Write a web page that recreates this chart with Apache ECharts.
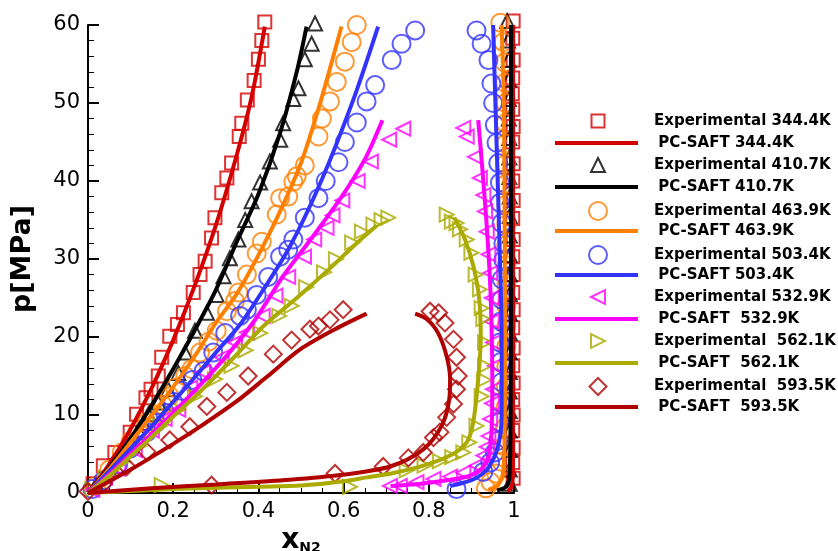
<!DOCTYPE html>
<html>
<head>
<meta charset="utf-8">
<script src="https://cdn.jsdelivr.net/npm/echarts@6/dist/echarts.min.js"></script>
<style>
  html, body { margin: 0; padding: 0; background: #fff; }
  #chart { width: 838px; height: 551px; }
</style>
</head>
<body>
<div id="chart"></div>
<script>
// legend labels (order as in the reference legend)
const expNames = ['Experimental 344.4K', 'Experimental 410.7K', 'Experimental 463.9K', 'Experimental 503.4K',
  'Experimental 532.9K', 'Experimental  562.1K', 'Experimental  593.5K']
const saftNames = [' PC-SAFT 344.4K', ' PC-SAFT 410.7K', ' PC-SAFT 463.9K', ' PC-SAFT 503.4K',
  ' PC-SAFT  532.9K', ' PC-SAFT  562.1K', ' PC-SAFT  593.5K']

// experimental points [x_N2, p/MPa]
const exp344 = [[0.012,1.2],[0.036,3.5],[0.063,5.2],[0.099,7.8],[0.114,10.1],[0.136,12.2],[0.148,13.3],[0.165,15.0],[0.173,17.4],[0.192,20.1],[0.21,21.6],[0.224,23.1],[0.247,25.7],[0.263,28.0],[0.275,29.7],[0.29,32.7],[0.298,35.3],[0.314,38.5],[0.326,40.4],[0.337,42.3],[0.355,45.7],[0.361,47.4],[0.374,50.4],[0.39,52.9],[0.4,55.6],[0.408,58.0],[0.415,60.4],
  [0.998,1.9],[0.997,3.9],[0.998,5.8],[0.997,8.0],[0.998,10.0],[0.997,12.0],[0.998,14.1],[0.997,16.3],[0.998,18.6],[0.997,21.2],[0.998,23.5],[0.997,25.7],[0.998,28.0],[0.997,30.3],[0.998,32.5],[0.997,35.2],[0.998,37.5],[0.997,40.0],[0.998,42.2],[0.997,45.0],[0.998,47.0],[0.997,49.2],[0.996,51.2],[0.997,53.2],[0.998,55.5],[0.997,58.3],[0.998,60.5]]
const exp410 = [[0.02,1.2],[0.05,3.0],[0.08,5.0],[0.1,6.5],[0.118,8.0],[0.13,9.0],[0.142,10.1],[0.165,11.6],[0.188,13.3],[0.212,15.4],[0.228,18.0],[0.251,20.8],[0.279,23.1],[0.302,25.4],[0.318,27.8],[0.333,30.1],[0.353,32.5],[0.369,35.0],[0.384,37.4],[0.404,39.8],[0.427,42.5],[0.451,45.3],[0.458,47.4],[0.482,50.5],[0.494,51.9],[0.509,55.6],[0.525,57.6],[0.533,60.2],
  [0.99,1.2],[0.99,3.0],[0.99,5.5],[0.99,8.0],[0.99,10.5],[0.99,13.0],[0.99,15.5],[0.99,18.0],[0.99,20.5],[0.99,23.0],[0.99,25.5],[0.99,28.0],[0.99,30.5],[0.99,33.0],[0.99,35.5],[0.99,38.0],[0.989,40.5],[0.989,43.0],[0.989,45.5],[0.988,48.0],[0.988,50.5],[0.988,53.0],[0.987,55.5],[0.986,58.0],[0.984,60.5]]
const exp463 = [[0.02,1.0],[0.05,3.0],[0.079,5.2],[0.1,6.6],[0.118,8.0],[0.137,9.0],[0.157,10.1],[0.175,11.3],[0.192,12.4],[0.204,13.5],[0.228,15.0],[0.243,15.9],[0.263,18.0],[0.283,19.4],[0.302,20.8],[0.326,23.3],[0.345,24.6],[0.353,25.7],[0.373,28.0],[0.396,30.7],[0.408,32.2],[0.443,35.7],[0.451,37.8],[0.47,38.0],[0.482,39.9],[0.49,40.6],[0.509,42.0],[0.541,45.7],[0.549,48.0],[0.568,50.2],[0.584,52.7],[0.603,55.3],[0.619,57.8],[0.631,60.0],
  [0.934,0.6],[0.945,1.4],[0.958,2.5],[0.97,4.0],[0.976,6.0],[0.979,8.4],[0.98,11.0],[0.981,13.6],[0.982,16.2],[0.982,18.8],[0.982,21.4],[0.982,24.0],[0.982,26.6],[0.982,29.2],[0.982,31.8],[0.982,34.4],[0.982,37.0],[0.981,39.6],[0.981,42.2],[0.981,44.8],[0.98,47.4],[0.98,50.0],[0.979,52.6],[0.978,55.2],[0.975,57.8],[0.968,60.3]]
const exp503 = [[0.01,0.5],[0.036,1.6],[0.071,3.7],[0.1,5.7],[0.138,7.8],[0.16,9.0],[0.181,10.3],[0.2,11.7],[0.22,13.1],[0.245,14.5],[0.271,15.6],[0.294,18.0],[0.322,20.5],[0.357,22.7],[0.373,23.5],[0.396,25.4],[0.423,27.7],[0.451,30.3],[0.47,31.2],[0.482,32.5],[0.509,35.3],[0.541,37.8],[0.558,40.0],[0.588,42.4],[0.603,45.0],[0.631,47.5],[0.654,50.2],[0.674,52.3],[0.713,55.5],[0.736,57.6],[0.768,59.3],
  [0.865,0.5],[0.928,2.7],[0.944,3.9],[0.955,5.2],[0.963,6.7],[0.967,9.1],[0.967,11.6],[0.971,14.2],[0.969,16.8],[0.967,19.3],[0.969,22.0],[0.971,24.8],[0.971,27.4],[0.975,29.9],[0.975,32.0],[0.971,34.6],[0.967,37.2],[0.967,39.8],[0.963,42.3],[0.959,44.9],[0.955,47.2],[0.951,50.0],[0.947,52.5],[0.94,55.5],[0.924,57.6],[0.912,59.3]]
const exp532 = [[0.01,0.4],[0.04,2.0],[0.071,3.1],[0.11,5.5],[0.15,8.0],[0.18,9.5],[0.212,10.7],[0.24,13.5],[0.27,15.5],[0.314,17.4],[0.345,19.3],[0.373,20.6],[0.41,22.7],[0.44,25.3],[0.47,27.7],[0.507,30.3],[0.531,32.5],[0.56,34.0],[0.574,35.6],[0.597,37.5],[0.633,40.0],[0.664,42.5],[0.707,45.3],[0.74,46.7],
  [0.709,0.9],[0.732,0.9],[0.771,1.4],[0.811,1.8],[0.85,2.1],[0.881,2.6],[0.912,3.5],[0.928,4.8],[0.936,5.9],[0.94,7.3],[0.944,9.5],[0.948,11.5],[0.951,13.3],[0.955,16.3],[0.951,19.3],[0.948,22.0],[0.948,25.0],[0.944,28.2],[0.94,30.6],[0.936,33.5],[0.932,36.1],[0.928,38.2],[0.92,40.4],[0.908,43.1],[0.889,45.7],[0.881,46.8]]
const exp562 = [[0.01,0.5],[0.04,2.0],[0.08,4.0],[0.12,6.0],[0.169,8.6],[0.212,10.7],[0.251,12.4],[0.298,14.6],[0.337,16.3],[0.37,18.3],[0.404,20.5],[0.449,22.7],[0.478,24.0],[0.512,26.4],[0.554,28.3],[0.582,30.0],[0.62,32.1],[0.643,33.5],[0.67,34.4],[0.689,35.0],[0.705,35.3],
  [0.173,1.0],[0.615,0.8],[0.748,2.9],[0.79,3.5],[0.826,4.1],[0.855,4.6],[0.881,5.2],[0.895,6.5],[0.912,8.6],[0.924,12.4],[0.93,14.5],[0.932,16.3],[0.932,19.3],[0.928,22.3],[0.924,23.7],[0.92,26.1],[0.91,28.0],[0.9,30.8],[0.889,32.5],[0.873,33.8],[0.865,34.6],[0.854,34.8],[0.842,35.7]]
const exp593 = [[0,0.2],[0.036,1.2],[0.091,3.4],[0.138,5.3],[0.192,6.8],[0.239,8.5],[0.279,11.1],[0.326,12.9],[0.376,15.0],[0.435,17.8],[0.478,19.6],[0.521,21.0],[0.541,21.4],[0.568,22.2],[0.599,23.5],
  [0.29,1.0],[0.58,2.5],[0.693,3.4],[0.752,4.5],[0.787,5.2],[0.811,7.1],[0.826,7.8],[0.842,9.7],[0.858,11.4],[0.865,13.3],[0.869,15.0],[0.865,17.4],[0.858,19.7],[0.838,21.8],[0.823,23.1],[0.803,23.3]]

// PC-SAFT curves, liquid (left) and vapour (right) branches
const saft344L = [[0,0],[0.05,3.7],[0.1,8.2],[0.15,13.5],[0.2,19.6],[0.25,26.5],[0.3,34.3],[0.35,43.5],[0.385,51.0],[0.415,59.8]]
const saft344R = [[0.985,0.2],[0.996,1.0],[0.998,5.0],[0.998,30.0],[0.998,60.0]]
const saft410L = [[0,0],[0.05,3.3],[0.1,7.0],[0.15,11.3],[0.2,15.9],[0.25,20.8],[0.3,26.0],[0.35,32.3],[0.4,38.3],[0.45,46.0],[0.49,54.0],[0.513,59.8]]
const saft410R = [[0.96,0.3],[0.985,1.0],[0.99,3.0],[0.992,10.0],[0.993,30.0],[0.993,50.0],[0.993,60.0]]
const saft463L = [[0,0],[0.05,3.1],[0.1,6.5],[0.15,10.0],[0.2,13.6],[0.25,17.5],[0.3,21.8],[0.35,25.6],[0.4,30.5],[0.45,36.0],[0.5,42.3],[0.545,50.0],[0.595,59.8]]
const saft463R = [[0.94,0.4],[0.965,1.2],[0.975,3.0],[0.978,8.0],[0.979,20.0],[0.978,35.0],[0.976,50.0],[0.971,60.0]]
const saft503L = [[0,0],[0.05,2.8],[0.1,5.7],[0.15,8.6],[0.2,11.7],[0.25,14.8],[0.3,18.0],[0.357,21.6],[0.412,26.1],[0.474,31.6],[0.549,40.2],[0.622,50.3],[0.681,59.8]]
const saft503R = [[0.85,0.9],[0.88,1.3],[0.91,1.9],[0.935,2.9],[0.95,4.2],[0.96,5.5],[0.968,7.5],[0.971,10.0],[0.971,20.0],[0.967,30.0],[0.959,45.0],[0.951,60.0]]
const saft532L = [[0,0],[0.05,2.4],[0.1,5.0],[0.15,7.6],[0.2,10.3],[0.25,13.1],[0.3,16.0],[0.35,19.2],[0.396,22.5],[0.458,27.8],[0.513,31.8],[0.592,37.7],[0.65,42.8],[0.691,47.8]]
const saft532R = [[0.71,0.9],[0.78,1.2],[0.85,1.7],[0.9,2.3],[0.93,3.5],[0.943,5.5],[0.948,9.0],[0.949,15.0],[0.947,22.0],[0.943,28.0],[0.935,35.0],[0.925,42.0],[0.916,47.8]]
const saft562L = [[0,0],[0.05,2.2],[0.1,4.7],[0.15,7.2],[0.2,9.8],[0.25,12.3],[0.3,15.0],[0.35,17.8],[0.412,21.4],[0.49,25.0],[0.568,28.8],[0.63,32.0],[0.678,34.3]]
const saft562R = [[0,0],[0.2,0.5],[0.4,0.8],[0.5,0.95],[0.6,1.5],[0.654,2.0],[0.72,2.6],[0.787,3.5],[0.85,4.8],[0.889,6.5],[0.904,9.0],[0.916,14.6],[0.922,20.0],[0.918,25.0],[0.905,29.0],[0.885,32.5],[0.86,35.3]]
const saft593L = [[0,0],[0.1,3.0],[0.2,6.3],[0.263,8.5],[0.35,11.8],[0.42,14.9],[0.498,18.4],[0.58,21.0],[0.654,23.0]]
const saft593R = [[0,0],[0.15,0.6],[0.302,1.1],[0.474,1.7],[0.592,2.3],[0.709,3.4],[0.787,5.6],[0.83,8.6],[0.848,12.0],[0.85,14.6],[0.842,17.5],[0.822,20.5],[0.795,22.3],[0.768,23.0]]

const xTicks = [0, 0.2, 0.4, 0.6, 0.8, 1]
const yTicks = [0, 10, 20, 30, 40, 50, 60]

const expData = [exp344, exp410, exp463, exp503, exp532, exp562, exp593]
const saftData = [[saft344L, saft344R], [saft410L, saft410R], [saft463L, saft463R], [saft503L, saft503R],
  [saft532L, saft532R], [saft562L, saft562R], [saft593L, saft593R]]
const colors = ['#d40000', '#000000', '#ff8000', '#3333ff', '#ff00ff', '#aaaa00', '#b00000']
const symbols = ['rect', 'triangle', 'circle', 'circle', 'triangle', 'triangle', 'diamond']
const rotates = [0, 0, 0, 0, 90, -90, 0]
const sizes = [13, 14, 18, 18, 14, 14, 17]
// legend icons (the rotated triangles are given as paths)
const legendIcons = ['rect', 'triangle', 'circle', 'circle',
  'path://M0,7 L14,0 L14,14 Z', 'path://M14,7 L0,0 L0,14 Z', 'diamond']
const legendSizes = [13, 14, 18, 18, 14, 14, 17]

const font = 'DejaVu Sans'
const legendText = { fontFamily: font, fontWeight: 'bold', fontSize: 15, color: '#000', lineHeight: 16 }
const series = []
const legends = []
expData.forEach((d, i) => {
  series.push({
    name: expNames[i],
    type: 'scatter',
    data: d,
    symbol: symbols[i],
    symbolRotate: rotates[i],
    symbolSize: sizes[i],
    clip: false,
    itemStyle: { color: 'rgba(255,255,255,0)', borderColor: colors[i], borderWidth: 2 }
  })
  saftData[i].forEach(branch => {
    series.push({
      name: saftNames[i],
      type: 'line',
      data: branch,
      symbol: 'none',
      smooth: 0.3,
      lineStyle: { color: colors[i], width: 4 },
      itemStyle: { color: colors[i] }
    })
  })
  // one legend row per entry, 22 px apart
  const s = legendSizes[i]
  const yExp = 121 + i * 44
  legends.push({
    data: [{ name: expNames[i], icon: legendIcons[i] }],
    left: 597 - s / 2,
    top: yExp - 8,
    padding: 0,
    itemWidth: s,
    itemHeight: s,
    selectedMode: false,
    textStyle: Object.assign({ padding: [0, 0, 0, 653 - (597 + s / 2) - 5] }, legendText)
  })
  legends.push({
    data: [{ name: saftNames[i], icon: 'rect' }],
    left: 555,
    top: yExp + 22 - 8,
    padding: 0,
    itemWidth: 83,
    itemHeight: 4,
    selectedMode: false,
    textStyle: Object.assign({ padding: [0, 0, 0, 10] }, legendText)
  })
})

const chart = echarts.init(document.getElementById('chart'))
chart.setOption({
  animation: false,
  backgroundColor: '#fff',
  grid: { left: 88, right: 324, top: 25, bottom: 58, outerBoundsMode: 'none' },
  legend: legends,
  xAxis: {
    type: 'value',
    min: xTicks[0],
    max: xTicks[xTicks.length - 1],
    interval: 0.2,
    name: '{x|x}{s|N2}',
    nameLocation: 'middle',
    nameGap: 29,
    nameTextStyle: {
      rich: {
        x: { fontFamily: font, fontWeight: 'bold', fontSize: 28, color: '#000' },
        s: { fontFamily: font, fontWeight: 'bold', fontSize: 14, color: '#000', verticalAlign: 'bottom', padding: [12, 0, 0, 0] }
      }
    },
    axisLine: { lineStyle: { color: '#000', width: 2 } },
    axisTick: { inside: true, length: 10, lineStyle: { color: '#000', width: 2 } },
    minorTick: { show: true, splitNumber: 4, length: 5, lineStyle: { color: '#000', width: 1 } },
    axisLabel: { fontFamily: font, fontSize: 21, color: '#000', margin: 8 },
    splitLine: { show: false }
  },
  yAxis: {
    type: 'value',
    min: yTicks[0],
    max: yTicks[yTicks.length - 1],
    interval: 10,
    name: 'p[MPa]',
    nameLocation: 'middle',
    nameGap: 52,
    nameTextStyle: { fontFamily: font, fontWeight: 'bold', fontSize: 27, color: '#000' },
    axisLine: { show: true, lineStyle: { color: '#000', width: 2 } },
    axisTick: { show: true, inside: true, length: 11, lineStyle: { color: '#000', width: 2 } },
    minorTick: { show: true, splitNumber: 5, length: 6, lineStyle: { color: '#000', width: 1 } },
    axisLabel: { fontFamily: font, fontSize: 21, color: '#000', margin: 8 },
    splitLine: { show: false }
  },
  series: series
})
</script>
</body>
</html>
